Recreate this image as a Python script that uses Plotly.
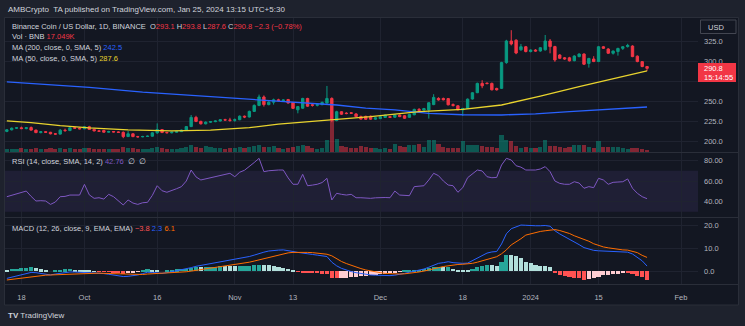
import pandas as pd
import plotly.graph_objects as go

# ---------------- data ----------------
dates = pd.date_range("2023-09-15", "2024-01-25", freq="D")

opens = [
    212.0, 214.0, 216.0, 216.5, 215.5, 216.8, 213.6, 210.5, 211.6, 210.9,
    209.0, 208.6, 213.5, 213.0, 216.5, 216.0, 215.2, 217.8, 214.5, 212.6,
    213.2, 211.0, 211.8, 211.3, 210.8, 205.5, 209.0, 205.5, 205.2, 205.6,
    206.0, 210.2, 214.3, 210.6, 210.3, 211.0, 211.7, 213.6, 218.0, 229.5,
    224.5, 221.5, 223.5, 224.2, 225.0, 226.6, 226.2, 225.8, 226.6, 231.0,
    230.0, 237.0, 244.5, 255.0, 245.5, 248.5, 251.5, 250.5, 251.8, 248.2,
    239.0, 241.0, 253.2, 245.3, 244.6, 245.4, 247.5, 253.2, 225.6, 236.6,
    234.8, 235.3, 233.8, 230.4, 230.8, 231.0, 227.3, 228.0, 229.4, 230.4,
    229.7, 232.4, 231.6, 229.6, 232.8, 239.5, 238.7, 238.8, 245.5, 253.3,
    253.2, 253.0, 245.5, 244.0, 239.0, 240.8, 252.5, 260.4, 272.0, 272.3,
    272.0, 265.7, 265.8, 298.0, 325.0, 326.0, 314.0, 317.8, 311.8, 313.7,
    312.5, 314.0, 325.0, 318.0, 307.5, 304.0, 304.0, 300.4, 305.5, 308.7,
    297.0, 302.5, 299.3, 317.8, 315.0, 309.7, 311.8, 315.8, 318.0, 318.7,
    306.0, 299.2, 293.1,
]
highs = [
    214.8, 216.8, 217.3, 218.0, 217.5, 218.2, 214.2, 212.5, 212.2, 211.4,
    209.8, 215.0, 215.5, 217.2, 217.5, 216.9, 218.6, 219.0, 215.2, 214.0,
    214.0, 212.8, 212.3, 211.9, 212.0, 212.5, 209.6, 206.4, 206.5, 206.8,
    210.8, 222.0, 215.0, 211.5, 211.8, 212.6, 214.2, 218.6, 232.5, 231.5,
    225.4, 224.5, 224.8, 225.6, 227.4, 227.8, 229.0, 228.2, 232.0, 231.8,
    238.0, 245.8, 258.0, 257.0, 249.8, 253.0, 252.8, 252.0, 252.6, 248.8,
    243.8, 254.0, 254.0, 246.6, 246.0, 249.4, 268.8, 254.6, 237.8, 237.2,
    236.0, 236.0, 235.0, 231.8, 231.6, 231.8, 229.8, 231.0, 233.2, 231.2,
    233.4, 233.2, 232.4, 234.0, 240.4, 241.2, 241.4, 248.4, 258.5, 254.6,
    254.2, 253.8, 247.0, 244.8, 241.4, 253.2, 261.0, 273.0, 276.0, 273.2,
    273.0, 266.6, 299.0, 326.5, 338.5, 327.2, 321.3, 318.8, 314.6, 314.8,
    317.5, 332.5, 327.5, 319.0, 308.6, 305.0, 305.2, 307.2, 309.6, 309.6,
    304.0, 306.0, 318.8, 318.8, 316.0, 313.2, 316.6, 318.6, 321.5, 319.6,
    307.0, 300.0, 293.8,
]
lows = [
    211.0, 213.2, 215.0, 214.8, 214.6, 213.0, 209.8, 209.6, 210.2, 208.3,
    207.6, 208.0, 211.5, 212.4, 215.2, 214.6, 214.8, 213.8, 212.0, 211.6,
    210.5, 210.4, 210.8, 210.2, 203.5, 205.0, 204.8, 204.2, 204.6, 205.0,
    205.4, 209.0, 209.8, 209.6, 209.5, 210.4, 211.2, 213.0, 217.4, 223.6,
    220.6, 220.8, 222.6, 223.5, 224.4, 225.4, 224.0, 224.0, 226.0, 228.6,
    229.4, 236.2, 243.5, 243.0, 244.6, 245.5, 249.6, 249.8, 246.8, 240.0,
    234.6, 240.2, 242.6, 243.0, 243.2, 244.8, 246.6, 223.5, 224.6, 232.6,
    233.4, 234.0, 230.0, 226.8, 226.6, 226.6, 226.6, 227.4, 228.8, 228.8,
    229.0, 229.8, 227.6, 229.0, 232.2, 237.4, 238.0, 228.0, 244.8, 250.6,
    250.8, 244.6, 243.0, 238.4, 231.3, 240.2, 251.8, 259.8, 266.0, 270.8,
    263.2, 263.0, 265.0, 296.5, 319.5, 308.5, 312.8, 310.8, 310.8, 311.8,
    311.6, 313.0, 309.6, 299.0, 302.4, 301.6, 299.4, 299.6, 304.6, 295.0,
    291.7, 298.6, 298.6, 315.0, 309.0, 308.0, 306.7, 313.8, 316.8, 304.8,
    298.4, 292.2, 287.6,
]
closes = [
    214.0, 216.0, 216.5, 215.5, 216.6, 213.6, 210.5, 211.6, 210.9, 209.0,
    208.6, 213.5, 213.0, 216.5, 216.0, 215.2, 217.8, 214.5, 212.6, 212.2,
    211.0, 211.8, 211.3, 210.8, 205.5, 209.0, 205.5, 205.2, 205.6, 206.0,
    210.2, 214.3, 210.6, 210.3, 211.0, 211.7, 213.6, 218.0, 229.5, 224.5,
    221.5, 223.5, 224.2, 225.0, 226.6, 226.2, 225.8, 226.6, 231.0, 230.0,
    237.0, 244.5, 255.0, 245.5, 248.5, 251.5, 250.5, 251.2, 247.5, 240.8,
    243.0, 253.2, 243.5, 244.6, 245.4, 248.2, 253.2, 226.0, 236.6, 233.5,
    234.3, 234.6, 230.5, 227.4, 227.2, 227.3, 229.0, 230.3, 232.3, 229.6,
    232.4, 230.5, 228.4, 233.2, 239.5, 238.3, 240.5, 247.8, 254.5, 251.3,
    251.5, 245.2, 244.5, 239.0, 240.6, 252.3, 260.3, 272.0, 269.0, 271.8,
    264.0, 264.0, 298.0, 325.0, 321.3, 310.0, 317.8, 311.8, 313.7, 312.5,
    316.6, 325.0, 318.0, 301.3, 303.4, 302.6, 300.2, 306.2, 308.7, 296.0,
    303.2, 299.3, 317.8, 315.9, 309.7, 312.4, 315.7, 317.8, 319.5, 305.5,
    299.3, 293.1, 290.8,
]
# daily volume, thousands of BNB
volumes_k = [
    21, 21, 21, 28, 21, 21, 28, 21, 21, 28,
    21, 24, 21, 28, 21, 21, 24, 28, 21, 21,
    21, 21, 20, 21, 35, 28, 28, 21, 21, 21,
    28, 35, 28, 21, 21, 21, 28, 35, 49, 35,
    28, 42, 35, 28, 28, 21, 28, 28, 35, 28,
    35, 42, 49, 35, 35, 42, 28, 21, 28, 35,
    42, 49, 42, 28, 21, 28, 84, 215, 91, 42,
    35, 28, 28, 42, 35, 28, 28, 21, 28, 21,
    56, 42, 35, 49, 49, 56, 35, 84, 84, 56,
    35, 28, 28, 28, 77, 49, 49, 49, 42, 35,
    35, 28, 119, 84, 77, 42, 28, 35, 28, 28,
    35, 84, 42, 42, 35, 28, 35, 49, 49, 49,
    35, 28, 77, 35, 35, 35, 35, 28, 21, 28,
    28, 21, 17.049,
]
rsi = [
    44.7, 46.0, 47.5, 49.0, 50.2, 45.0, 40.5, 40.8, 40.5, 37.2,
    39.5, 44.7, 45.0, 46.3, 46.0, 46.3, 56.7, 46.5, 43.1, 43.7,
    42.4, 47.0, 44.7, 41.0, 36.6, 41.5, 38.5, 37.2, 38.8, 39.2,
    46.0, 55.4, 50.5, 49.0, 50.5, 52.5, 54.5, 60.0, 70.7, 64.0,
    61.0, 62.0, 63.2, 64.0, 65.5, 66.5, 67.5, 64.2, 68.5, 70.5,
    74.0, 78.0, 82.1, 69.1, 70.0, 70.7, 70.7, 70.7, 63.0, 56.8,
    56.8, 66.5, 55.4, 56.0, 56.8, 58.5, 62.6, 41.5, 48.0, 47.0,
    46.3, 47.0, 43.7, 43.7, 43.3, 43.1, 43.6, 44.1, 43.9, 43.7,
    50.2, 46.3, 46.0, 45.7, 54.5, 55.0, 55.4, 61.0, 67.5, 65.2,
    60.0, 56.1, 55.4, 49.0, 53.5, 63.2, 67.0, 70.7, 69.8, 64.2,
    63.2, 63.5, 75.6, 82.1, 80.5, 74.9, 73.5, 70.7, 70.7, 70.7,
    71.7, 74.0, 69.1, 60.0, 57.7, 56.8, 56.8, 59.3, 58.0, 52.9,
    54.5, 53.5, 62.6, 61.0, 56.8, 58.7, 59.0, 59.3, 62.0, 52.9,
    48.0, 44.7, 42.76,
]
macd = [
    -3.1, -2.6, -2.0, -1.6, -1.0, -0.5, -0.6, -1.0, -1.4, -1.6,
    -1.2, -0.8, -0.5, -0.3, -0.3, -0.4, -0.3, -0.5, -0.7, -0.9,
    -1.0, -1.3, -1.6, -1.9, -2.3, -2.2, -2.0, -1.6, -1.0, -0.4,
    -0.5, -0.7, -0.9, -0.6, -0.2, 0.2, 0.6, 1.0, 1.6, 2.2,
    2.6, 3.0, 3.4, 3.8, 4.2, 4.5, 4.8, 5.1, 5.5, 6.0,
    6.5, 7.1, 7.9, 8.4, 8.9, 9.2, 9.3, 9.4, 9.2, 8.7,
    8.3, 7.9, 7.6, 7.4, 7.1, 6.8, 6.5, 4.0, 2.4, 1.3,
    0.5, -0.1, -0.6, -1.0, -1.4, -1.6, -1.7, -1.8, -1.9, -1.9,
    -1.7, -1.4, -0.9, -0.4, 0.0, 0.4, 1.0, 1.8, 2.7, 3.5,
    3.8, 4.2, 3.8, 3.5, 3.5, 3.6, 4.7, 5.9, 7.1, 8.0,
    8.5, 8.7, 12.0, 16.5, 18.7, 19.6, 20.3, 20.2, 20.0, 20.0,
    20.0, 20.1, 19.8, 17.8, 16.4, 15.3, 14.0, 12.8, 11.7, 10.4,
    9.8, 9.2, 9.0, 8.9, 8.8, 8.7, 8.6, 8.5, 8.4, 7.6,
    6.2, 4.6, 2.3,
]
signal = [
    -3.8, -3.5, -3.2, -2.9, -2.6, -2.3, -2.0, -1.8, -1.7, -1.6,
    -1.5, -1.4, -1.3, -1.2, -1.0, -0.9, -0.8, -0.8, -0.8, -0.8,
    -0.9, -1.0, -1.1, -1.2, -1.3, -1.4, -1.5, -1.5, -1.4, -1.2,
    -1.1, -1.0, -0.9, -0.9, -0.8, -0.6, -0.4, -0.2, 0.1, 0.4,
    0.8, 1.1, 1.4, 1.7, 2.0, 2.3, 2.6, 2.9, 3.2, 3.6,
    4.0, 4.5, 5.0, 5.6, 6.2, 6.8, 7.3, 7.8, 8.1, 8.3,
    8.4, 8.4, 8.3, 8.2, 8.0, 7.8, 7.5, 6.8, 5.4, 4.3,
    3.4, 2.6, 1.9, 1.2, 0.6, 0.1, -0.3, -0.6, -0.9, -1.1,
    -1.2, -1.2, -1.1, -0.9, -0.6, -0.3, 0.1, 0.5, 1.0, 1.6,
    2.1, 2.5, 2.8, 3.0, 3.1, 3.2, 3.5, 4.0, 4.6, 5.2,
    5.8, 6.4, 7.7, 9.4, 11.6, 12.9, 14.3, 15.9, 16.5, 17.2,
    17.5, 17.8, 17.9, 18.3, 17.9, 17.3, 16.6, 15.6, 14.8, 14.2,
    13.2, 12.1, 11.3, 10.7, 10.3, 9.9, 9.6, 9.4, 9.3, 8.9,
    8.2, 7.0, 6.1,
]
ma200_dates = ["2023-09-15", "2023-09-23", "2023-10-02", "2023-10-13", "2023-10-16",
               "2023-10-23", "2023-11-02", "2023-11-09", "2023-11-16", "2023-11-22",
               "2023-11-28", "2023-12-04", "2023-12-11", "2023-12-18", "2023-12-26",
               "2024-01-02", "2024-01-09", "2024-01-16", "2024-01-21", "2024-01-25"]
ma200_vals = [274.0, 270.5, 267.0, 261.0, 259.8, 256.7, 253.2, 250.4, 247.0, 245.0,
              241.0, 238.8, 234.5, 232.8, 232.5, 234.0, 236.8, 239.0, 241.0, 242.5]
ma50_dates = ["2023-09-15", "2023-09-20", "2023-09-26", "2023-10-02", "2023-10-10",
              "2023-10-16", "2023-10-19", "2023-10-27", "2023-11-04", "2023-11-10",
              "2023-11-15", "2023-11-19", "2023-11-23", "2023-11-29", "2023-12-09",
              "2023-12-18", "2023-12-26", "2024-01-03", "2024-01-11", "2024-01-19",
              "2024-01-25"]
ma50_vals = [225.2, 223.0, 219.2, 216.3, 213.8, 213.0, 212.6, 213.7, 216.7, 221.0,
             223.5, 225.4, 228.0, 230.4, 236.7, 239.6, 245.0, 256.0, 268.0, 279.6,
             287.6]

tick_dates = ["2023-09-18", "2023-10-01", "2023-10-16", "2023-11-01", "2023-11-13",
              "2023-12-01", "2023-12-18", "2024-01-01", "2024-01-15", "2024-02-01"]
tick_text = ["18", "Oct", "16", "Nov", "13", "Dec", "18", "2024", "15", "Feb"]
price_ticks = [200, 225, 250, 275, 300, 325]
rsi_ticks = [40, 60, 80]
macd_ticks = [0, 10, 20]

# ---------------- style ----------------
W, H = 745, 326
PL, PR, PT, PB = 5, 698, 18, 284          # plot area in pixels
OUTER = "#1e222d"
BG = "#131722"
GRID = "#1f2330"
SEP = "#2a2e39"
TXT = "#d1d4dc"
AX = "#b2b5be"
UP, DN = "#089981", "#f23645"
FONT = "Liberation Sans"


def fx(px):
    return (px - PL) / (PR - PL)


def fy(py):
    return (PB - py) / (PB - PT)


price_dom = [fy(152), 1.0]
rsi_dom = [fy(217), fy(153)]
macd_dom = [0.0, fy(218)]

x_start = pd.Timestamp("2023-09-18") + pd.Timedelta(days=(PL - 21.4) / 4.85)
x_end = pd.Timestamp("2023-09-18") + pd.Timedelta(days=(PR - 21.4) / 4.85)

hist = [m - s for m, s in zip(macd, signal)]
hist_colors = []
for i, h in enumerate(hist):
    prev = hist[i - 1] if i > 0 else h
    if h >= 0:
        hist_colors.append("#26a69a" if h > prev else "#b2dfdb")
    else:
        hist_colors.append("#ffcdd2" if h > prev else "#ff5252")

vol_colors = ["rgba(8,153,129,0.5)" if c >= o else "rgba(242,54,69,0.5)"
              for o, c in zip(opens, closes)]

last = closes[-1]
# the last-price tag covers the scale label nearest below it
price_labels = ["" if 0 < last - v < 20 else f"{v:.1f}" for v in price_ticks]

fig = go.Figure()

# volume under the candles
fig.add_trace(go.Bar(x=dates, y=volumes_k, marker_color=vol_colors, marker_line_width=0,
                     width=0.85 * 86400000, yaxis="y4", hoverinfo="skip"))

fig.add_trace(go.Candlestick(
    x=dates, open=opens, high=highs, low=lows, close=closes,
    increasing=dict(line=dict(color=UP, width=1), fillcolor=UP),
    decreasing=dict(line=dict(color=DN, width=1), fillcolor=DN),
    whiskerwidth=0, yaxis="y", hoverinfo="skip"))

fig.add_trace(go.Scatter(x=pd.to_datetime(ma200_dates), y=ma200_vals, mode="lines",
                         line=dict(color="#2962ff", width=1.3), yaxis="y", hoverinfo="skip"))
fig.add_trace(go.Scatter(x=pd.to_datetime(ma50_dates), y=ma50_vals, mode="lines",
                         line=dict(color="#e8d32e", width=1.3), yaxis="y", hoverinfo="skip"))

# RSI
fig.add_trace(go.Scatter(x=dates, y=rsi, mode="lines", line=dict(color="#7e57c2", width=1),
                         yaxis="y2", hoverinfo="skip"))

# MACD
fig.add_trace(go.Bar(x=dates, y=hist, marker_color=hist_colors, marker_line_width=0,
                     width=0.85 * 86400000, yaxis="y3", hoverinfo="skip"))
fig.add_trace(go.Scatter(x=dates, y=macd, mode="lines", line=dict(color="#2962ff", width=1),
                         yaxis="y3", hoverinfo="skip"))
fig.add_trace(go.Scatter(x=dates, y=signal, mode="lines", line=dict(color="#ff6d00", width=1),
                         yaxis="y3", hoverinfo="skip"))

axis_font = dict(family=FONT, size=7.5, color=AX)
common_y = dict(side="right", showgrid=True, gridcolor=GRID, gridwidth=1, zeroline=False,
                showline=False, ticks="", tickfont=axis_font, ticklabelstandoff=5,
                fixedrange=True)

fig.update_layout(
    width=W, height=H, autosize=False,
    margin=dict(l=PL, r=W - PR, t=PT, b=H - PB),
    paper_bgcolor=OUTER, plot_bgcolor=BG,
    showlegend=False, bargap=0,
    xaxis=dict(type="date", range=[x_start, x_end], anchor="y3", domain=[0, 1],
               showgrid=True, gridcolor=GRID, tickvals=pd.to_datetime(tick_dates),
               ticktext=tick_text, ticks="", tickfont=axis_font, ticklabelstandoff=7,
               showline=False, zeroline=False, rangeslider=dict(visible=False)),
    yaxis=dict(domain=price_dom, range=[186.25, 353.75], tickvals=price_ticks,
               ticktext=price_labels, **common_y),
    yaxis2=dict(domain=rsi_dom, range=[24.9, 87.3], tickvals=rsi_ticks,
                ticktext=[f"{v:.2f}" for v in rsi_ticks], **common_y),
    yaxis3=dict(domain=macd_dom, range=[-5.57, 23.4], tickvals=macd_ticks,
                ticktext=[f"{v:.1f}" for v in macd_ticks], **common_y),
    yaxis4=dict(overlaying="y", range=[0, 914], visible=False, fixedrange=True),
)

shapes = [
    # chart container
    dict(type="rect", xref="paper", yref="paper", x0=fx(4.5), x1=fx(738.5),
         y0=fy(305), y1=fy(17.5), fillcolor=BG, line=dict(color=SEP, width=1), layer="below"),
    # RSI band
    dict(type="rect", xref="paper", yref="y2", x0=0, x1=1, y0=30, y1=70,
         fillcolor="rgba(126,87,194,0.12)", line=dict(width=0), layer="below"),
]
for py in (152.5, 217.5, 284.5):
    shapes.append(dict(type="line", xref="paper", yref="paper", x0=fx(4.5), x1=fx(738.5),
                       y0=fy(py), y1=fy(py), line=dict(color=SEP, width=1)))

# last-price tag on the price scale
shapes.append(dict(type="rect", xref="paper", yref="y", x0=fx(698), x1=fx(736),
                   y0=last - 17.0, y1=last + 6.75, fillcolor=DN, line=dict(width=0)))
# currency box
shapes.append(dict(type="rect", xref="paper", yref="paper", x0=fx(700.5), x1=fx(736),
                   y0=fy(33.5), y1=fy(20), fillcolor="rgba(0,0,0,0)",
                   line=dict(color="#434651", width=1)))
fig.update_layout(shapes=shapes)


def span(text, color):
    return f"<span style='color:{color}'>{text}</span>"


chg = closes[-1] - closes[-2]
pct = chg / closes[-2] * 100
line1 = ("Binance Coin / US Dollar, 1D, BINANCE  "
         f"O{span(f'{opens[-1]:.1f}', DN)} H{span(f'{highs[-1]:.1f}', DN)} "
         f"L{span(f'{lows[-1]:.1f}', DN)} C{span(f'{closes[-1]:.1f}', DN)} "
         + span(f"{chg:+.1f} ({pct:+.2f}%)".replace("-", "−"), DN))
line2 = "Vol · BNB " + span(f"{volumes_k[-1]:.3f}K", DN)
line3 = "MA (200, close, 0, SMA, 5) " + span(f"{ma200_vals[-1]:.1f}", "#2962ff")
line4 = "MA (50, close, 0, SMA, 5) " + span(f"{ma50_vals[-1]:.1f}", "#e8d32e")
line_rsi = "RSI (14, close, SMA, 14, 2) " + span(f"{rsi[-1]:.2f}", "#7e57c2") + "  ∅  ∅"
line_macd = ("MACD (12, 26, close, 9, EMA, EMA) "
             + span(f"{hist[-1]:.1f}".replace("-", "−"), "#ff5252") + " "
             + span(f"{macd[-1]:.1f}", "#2962ff") + " "
             + span(f"{signal[-1]:.1f}", "#ff6d00"))

small = dict(family=FONT, size=7.5, color=TXT)
ann = []


def add_text(px, py, text, font=small, xanchor="left"):
    ann.append(dict(xref="paper", yref="paper", x=fx(px), y=fy(py), text=text,
                    showarrow=False, xanchor=xanchor, yanchor="middle", font=font))


add_text(6, 9, "AMBCrypto  TA published on TradingView.com, Jan 25, 2024 13:15 UTC+5:30",
         dict(family=FONT, size=8, color=TXT))
add_text(10, 26, line1)
add_text(10, 36.5, line2)
add_text(10, 47, line3)
add_text(10, 58, line4)
add_text(10, 161, line_rsi)
add_text(10, 228, line_macd)
add_text(706, 27, "USD", dict(family=FONT, size=7.5, color=TXT))
add_text(6, 315, "<b>TV</b> TradingView", dict(family=FONT, size=8, color=TXT))

ann.append(dict(xref="paper", yref="y", x=fx(702), y=last, text=f"{last:.1f}",
                showarrow=False, xanchor="left", yanchor="middle",
                font=dict(family=FONT, size=7.5, color="#ffffff")))
ann.append(dict(xref="paper", yref="y", x=fx(702), y=last - 12.0, text="15:14:55",
                showarrow=False, xanchor="left", yanchor="middle",
                font=dict(family=FONT, size=7.5, color="#ffffff")))

fig.update_layout(annotations=ann)

fig.write_html("out.html")
